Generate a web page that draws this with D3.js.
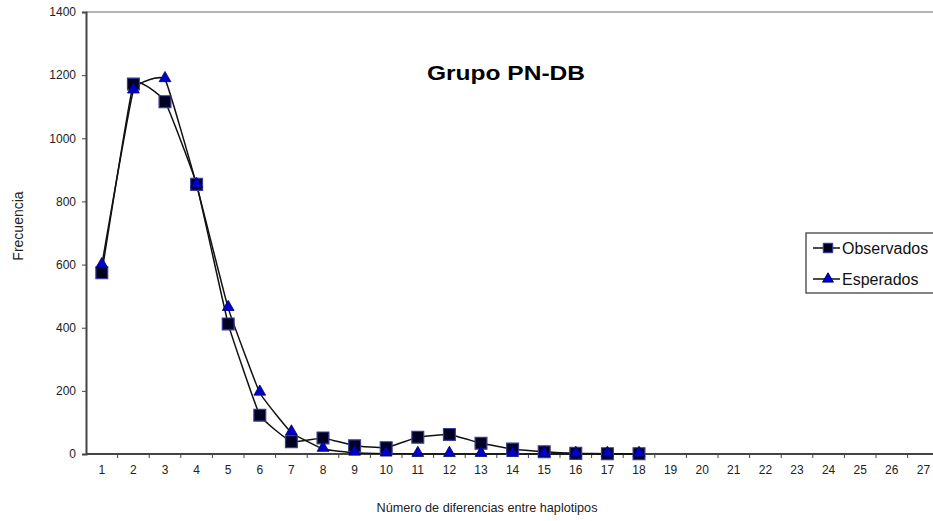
<!DOCTYPE html>
<html>
<head>
<meta charset="utf-8">
<script src="https://cdn.jsdelivr.net/npm/d3@7"></script>
<style>
	body { margin: 0; background: #fff; }
	svg { display: block; font-family: "Liberation Sans", Arial, sans-serif; }
</style>
</head>
<body>
<svg width="933" height="521"></svg>
<script>
// valores
const diferencias = d3.range(1, 28);
const observados = [574, 1172, 1116, 854, 412, 123, 39, 51, 26, 20, 53, 62, 34, 16, 7, 2, 1, 1];
const esperados = [598, 1151, 1187, 852, 462, 194, 68, 16, 4, 1, 0, 0, 0, 0, 0, 0, 0, 0];
const yTicks = [0, 200, 400, 600, 800, 1000, 1200, 1400];

let svg = d3.select("svg"),
	plotLeft = 86, plotTop = 12, plotBottom = 454;

let x = d3.scaleBand()
	.domain(diferencias)
	.range([plotLeft, plotLeft + 27 * 31.6]);
let y = d3.scaleLinear()
	.domain([0, 1400])
	.range([plotBottom, plotTop]);

// borde superior del area
svg.append("line")
	.attr("x1", plotLeft).attr("x2", 933)
	.attr("y1", plotTop).attr("y2", plotTop)
	.attr("stroke", "#b4b4b4").attr("stroke-width", 2);

// eje y
let yAxis = svg.append("g")
	.attr("transform", "translate(" + plotLeft + ",0)")
	.call(d3.axisLeft(y).tickValues(yTicks).tickFormat(d3.format("d")).tickSize(4).tickPadding(6));
yAxis.select(".domain").attr("stroke", "#444").attr("stroke-width", 2);
yAxis.selectAll(".tick line").attr("stroke", "#444");
yAxis.selectAll("text").attr("font-size", 12).attr("fill", "#222");

// eje x, marcas entre categorias
let xAxis = svg.append("g")
	.attr("transform", "translate(0," + plotBottom + ")");
xAxis.append("line")
	.attr("x1", plotLeft).attr("x2", 933)
	.attr("stroke", "#444").attr("stroke-width", 2);
xAxis.selectAll("line.tk")
	.data(diferencias)
	.enter().append("line")
	.attr("class", "tk")
	.attr("x1", d => x(d) + x.bandwidth())
	.attr("x2", d => x(d) + x.bandwidth())
	.attr("y1", 0).attr("y2", 4)
	.attr("stroke", "#444");
xAxis.selectAll("text")
	.data(diferencias)
	.enter().append("text")
	.attr("x", d => x(d) + x.bandwidth() / 2)
	.attr("y", 20)
	.attr("text-anchor", "middle")
	.attr("font-size", 12)
	.attr("fill", "#222")
	.text(d => d);

let cx = d => x(d) + x.bandwidth() / 2;
let line = d3.line()
	.x((d, i) => cx(diferencias[i]))
	.y(d => y(d))
	.curve(d3.curveCardinal.tension(0.7));

svg.append("path")
	.datum(esperados)
	.attr("d", line)
	.attr("fill", "none")
	.attr("stroke", "#111")
	.attr("stroke-width", 1.5);
svg.append("path")
	.datum(observados)
	.attr("d", line)
	.attr("fill", "none")
	.attr("stroke", "#111")
	.attr("stroke-width", 1.5);

let square = d3.symbol().type(d3.symbolSquare).size(140);
let triangle = d3.symbol().type(d3.symbolTriangle).size(60);

svg.append("g").selectAll("path")
	.data(observados)
	.enter().append("path")
	.attr("d", square)
	.attr("transform", (d, i) => "translate(" + cx(diferencias[i]) + "," + y(d) + ")")
	.attr("fill", "#000022")
	.attr("stroke", "#3a3a9a")
	.attr("stroke-width", 1.2);

svg.append("g").selectAll("path")
	.data(esperados)
	.enter().append("path")
	.attr("d", triangle)
	.attr("transform", (d, i) => "translate(" + cx(diferencias[i]) + "," + (y(d) - 1) + ")")
	.attr("fill", "#0000cc")
	.attr("stroke", "#000066")
	.attr("stroke-width", 0.8);

// titulo
svg.append("text")
	.attr("x", 506).attr("y", 80)
	.attr("text-anchor", "middle")
	.attr("font-size", 21)
	.attr("font-weight", "bold")
	.attr("textLength", 158)
	.attr("lengthAdjust", "spacingAndGlyphs")
	.text("Grupo PN-DB");

// titulos de ejes
svg.append("text")
	.attr("transform", "translate(23,226) rotate(-90)")
	.attr("text-anchor", "middle")
	.attr("font-size", 14)
	.attr("fill", "#222")
	.text("Frecuencia");
svg.append("text")
	.attr("x", 487).attr("y", 512)
	.attr("text-anchor", "middle")
	.attr("font-size", 13.5)
	.attr("fill", "#222")
	.attr("textLength", 221)
	.attr("lengthAdjust", "spacingAndGlyphs")
	.text("Número de diferencias entre haplotipos");

// leyenda
let legend = svg.append("g");
legend.append("rect")
	.attr("x", 806).attr("y", 233)
	.attr("width", 140).attr("height", 60)
	.attr("fill", "#fff")
	.attr("stroke", "#333").attr("stroke-width", 1.2);
let items = [
	{name: "Observados", sym: d3.symbol().type(d3.symbolSquare).size(90), fill: "#000022", stroke: "#3a3a9a"},
	{name: "Esperados", sym: d3.symbol().type(d3.symbolTriangle).size(50), fill: "#0000cc", stroke: "#000066"}
];
let item = legend.selectAll("g")
	.data(items)
	.enter().append("g")
	.attr("transform", (d, i) => "translate(0," + (248 + i * 31) + ")");
item.append("line")
	.attr("x1", 813).attr("x2", 840)
	.attr("stroke", "#111").attr("stroke-width", 1.5);
item.append("path")
	.attr("d", d => d.sym())
	.attr("transform", "translate(828,0)")
	.attr("fill", d => d.fill)
	.attr("stroke", d => d.stroke);
item.append("text")
	.attr("x", 842).attr("y", 6)
	.attr("font-size", 16)
	.attr("fill", "#111")
	.text(d => d.name);
</script>
</body>
</html>
